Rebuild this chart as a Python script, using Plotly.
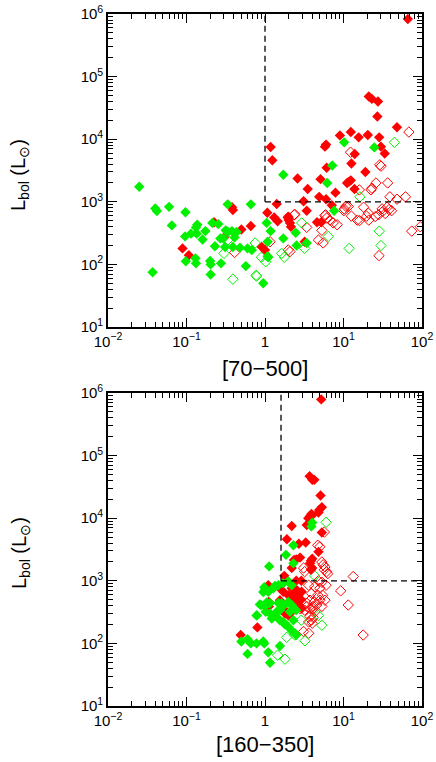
import plotly.graph_objects as go

# ---------------- data: top panel [70-500] ----------------
top_red_fill_x = [66, 21, 23, 27.5, 27, 48, 9.0, 12.4, 15.6, 20.4, 28.5, 30, 33.5, 6.0, 5.8, 1.18, 1.24, 13.9, 12.6, 6.1,
                  19, 2.6, 5.1, 11.1, 11.8, 12.4, 3.5, 13.8, 7.9, 4.9, 6.0, 3.1, 1.41, 7.1, 0.38, 0.39, 1.07, 1.95, 2.0, 1.31,
                  1.45, 3.4, 1.98, 2.08, 2.14, 4.6, 5.2, 0.91, 1.0, 0.225, 0.50, 0.66, 0.30, 0.089, 0.107, 3.2]
top_red_fill_y = [8.3e5, 4.8e4, 4.4e4, 4.0e4, 2.3e4, 1.55e4, 1.15e4, 1.3e4, 1.07e4, 1.17e4, 1.07e4, 7.6e3, 5.9e3, 8.2e3, 7.6e3, 7.5e3, 4.6e3, 5.8e3, 4.1e3, 3.5e3,
                  3.0e3, 2.35e3, 2.3e3, 2.0e3, 2.1e3, 2.2e3, 1.6e3, 1.6e3, 1.4e3, 1.2e3, 1.1e3, 1.02e3, 9.2e2, 8.8e2, 8.2e2, 7.4e2, 6.7e2, 5.6e2, 5.1e2, 5.6e2,
                  4.9e2, 7.2e2, 5.8e2, 4.6e2, 4.0e2, 4.7e2, 4.7e2, 1.9e2, 1.7e2, 4.7e2, 3.6e2, 4.1e2, 2.7e2, 1.8e2, 1.4e2, 2.3e2]

top_green_fill_x = [10.2, 24.7, 7.2, 1.71, 6.2, 0.025, 0.04, 0.042, 0.06, 0.097, 0.335, 0.66, 7.6, 1.05, 1.18, 1.08, 1.08, 0.95, 1.71, 2.46,
                    3.4, 0.065, 0.137, 0.132, 0.114, 0.135, 0.174, 0.096, 0.16, 0.213, 0.254, 0.316, 0.337, 0.38, 0.435, 0.27, 0.295, 0.41, 0.23, 0.31,
                    0.39, 0.48, 0.60, 0.68, 1.1, 0.13, 0.132, 0.098, 0.2, 0.203, 0.275, 0.203, 0.57, 0.037, 2.53]
top_green_fill_y = [8.9e3, 7.4e3, 3.8e3, 2.7e3, 2.0e3, 1.74e3, 7.8e2, 7.1e2, 8.3e2, 6.8e2, 9.1e2, 9.1e2, 7.2e2, 4.6e2, 3.4e2, 2.3e2, 1.35e2, 50, 2.6e2, 3.2e2,
                    2.2e2, 4.2e2, 4.3e2, 3.9e2, 3.1e2, 3.1e2, 3.4e2, 2.8e2, 2.5e2, 4.6e2, 4.4e2, 3.5e2, 3.3e2, 3.4e2, 3.3e2, 2.6e2, 2.6e2, 2.7e2, 1.95e2, 1.9e2,
                    1.9e2, 1.85e2, 1.8e2, 1.7e2, 1.3e2, 1.25e2, 1.04e2, 1.12e2, 1.13e2, 1.0e2, 1.04e2, 69, 94, 75, 2.0e2]

top_red_open_x = [68, 12.3, 29, 30, 25.9, 36.5, 22.4, 23, 15.9, 39, 61.5, 48, 2.4, 5.8, 6.1, 10.2, 11.5, 10.7, 10.1, 12.6,
                  18, 20.7, 19.7, 25.4, 31.5, 36, 41, 16, 74, 28.3, 2.35, 3.4, 5.9, 6.7, 7.4, 8.3, 5.3, 4.8, 5.5, 1.98,
                  2.08, 1.16, 0.41, 15, 21, 31, 34, 38, 28, 95]
top_red_open_y = [1.3e4, 6.2e3, 3.9e3, 3.7e3, 2.0e3, 2.0e3, 1.55e3, 1.65e3, 1.55e3, 1.2e3, 1.2e3, 1.1e3, 6.3e2, 6.0e2, 5.5e2, 7.7e2, 8.4e2, 8.5e2, 7.2e2, 5.9e2,
                  8.2e2, 6.6e2, 5.9e2, 5.8e2, 7.0e2, 8.2e2, 7.2e2, 5.0e2, 3.4e2, 1.38e2, 6.2e2, 3.9e2, 6.2e2, 5.1e2, 4.6e2, 4.3e2, 3.5e2, 2.45e2, 2.2e2, 1.7e2,
                  1.6e2, 2.3e2, 1.55e2, 5.1e2, 5.1e2, 7.7e2, 6.5e2, 7.5e2, 6.2e2, 4.0e2]

top_green_open_x = [44.5, 16.2, 28.6, 30, 11.8, 2.93, 6.4, 1.63, 1.76, 3.2, 0.9, 1.02, 0.75, 0.78, 0.335, 0.30, 0.39, 0.77]
top_green_open_y = [8.9e3, 1.2e3, 3.4e2, 2.0e2, 1.8e2, 4.6e2, 2.8e2, 1.5e2, 1.3e2, 1.8e2, 1.3e2, 1.1e2, 2.2e2, 65, 2.45e2, 1.5e2, 58, 67]

# ---------------- data: bottom panel [160-350] ----------------
bot_red_fill_x = [5.2, 3.7, 4.0, 4.25, 5.1, 5.3, 4.9, 4.8, 3.9, 4.0, 3.74, 3.56, 3.4, 2.19, 5.3, 1.9, 3.3, 2.7, 4.8, 2.8,
                  2.5, 2.34, 4.0, 3.85, 3.75, 2.19, 4.0, 3.85, 1.76, 2.5, 2.9, 1.1, 1.08, 1.12, 1.71, 1.98, 2.3, 2.66, 2.4, 2.5,
                  2.7, 2.93, 2.19, 1.98, 0.49, 0.8, 1.28, 1.1, 1.12, 2.5, 2.66, 1.71, 1.8, 1.55, 2.19, 2.9, 1.55, 2.19, 2.3, 2.66,
                  2.5, 2.93]
bot_red_fill_y = [7.9e5, 4.7e4, 4.1e4, 4.1e4, 2.3e4, 1.5e4, 1.35e4, 1.23e4, 1.17e4, 1.12e4, 1.07e4, 1.0e4, 7.8e3, 7.5e3, 5.9e3, 4.6e3, 4.1e3, 3.9e3, 2.9e3, 2.35e3,
                  2.2e3, 2.15e3, 2.25e3, 2.1e3, 1.9e3, 1.6e3, 1.6e3, 1.5e3, 1.2e3, 1.0e3, 1.0e3, 8.5e2, 4.1e2, 4.6e2, 6.7e2, 5.9e2, 8.0e2, 6.7e2, 5.2e2, 4.4e2,
                  4.1e2, 3.6e2, 3.2e2, 2.8e2, 1.36e2, 1.8e2, 2.7e2, 4.5e2, 3.9e2, 4.6e2, 4.1e2, 3.6e2, 3.0e2, 4.9e2, 5.2e2, 5.0e2, 7.6e2, 7.6e2, 6.3e2, 5.9e2,
                  7.1e2, 6.7e2]

bot_green_fill_x = [4.0, 3.9, 2.3, 1.85, 1.13, 2.3, 1.34, 1.0, 0.95, 0.86, 0.78, 1.02, 1.16, 1.41, 1.55, 1.48, 1.63, 1.98, 2.19, 0.50,
                    0.6, 0.66, 0.78, 0.95, 0.98, 0.6, 1.1, 1.16, 1.55, 0.79, 0.89, 1.34, 1.55, 1.71, 1.8, 1.22, 1.98, 2.19, 2.4, 2.5,
                    2.3, 2.08, 2.5, 1.05, 1.16, 1.63, 1.98, 2.19, 0.98, 1.1, 1.28, 1.48, 1.71, 1.98, 1.0, 1.71]
bot_green_fill_y = [8.5e3, 7.4e3, 3.7e3, 2.6e3, 1.7e3, 1.9e3, 8.3e2, 7.1e2, 6.6e2, 4.2e2, 2.8e2, 3.2e2, 3.0e2, 3.2e2, 3.4e2, 4.4e2, 4.4e2, 4.6e2, 8.5e2, 1.07e2,
                    1.17e2, 1.0e2, 1.0e2, 1.07e2, 1.0e2, 68, 72, 49, 91, 2.8e2, 4.1e2, 2.8e2, 2.35e2, 2.2e2, 2.0e2, 2.5e2, 1.85e2, 1.6e2, 1.45e2, 1.36e2,
                    2.35e2, 3.2e2, 3.4e2, 4.5e2, 4.4e2, 4.1e2, 4.5e2, 4.1e2, 7.9e2, 6.7e2, 7.6e2, 8.5e2, 9.1e2, 9.8e2, 3.9e2, 4.0e2]

bot_red_open_x = [5.7, 4.7, 5.0, 5.3, 5.5, 5.8, 6.1, 6.3, 5.7, 3.1, 3.2, 9.2, 13.3, 11.5, 3.6, 4.3, 5.0, 3.9, 4.7, 5.4,
                  3.75, 4.25, 5.0, 3.4, 4.1, 5.3, 5.8, 4.8, 5.3, 6.0, 2.8, 3.2, 3.4, 3.75, 4.1, 4.3, 3.75, 3.9, 4.55, 3.1,
                  3.6, 4.0, 17.8, 3.6, 4.1]
bot_red_open_y = [6.0e3, 3.7e3, 3.5e3, 2.0e3, 1.8e3, 1.67e3, 1.4e3, 1.3e3, 1.5e3, 1.6e3, 1.4e3, 6.9e2, 1.17e3, 4.1e2, 8.5e2, 8.0e2, 7.6e2, 6.3e2, 5.9e2, 5.9e2,
                  4.9e2, 4.6e2, 4.9e2, 3.9e2, 3.6e2, 3.9e2, 4.9e2, 1.0e3, 9.5e2, 8.5e2, 3.6e2, 3.4e2, 4.4e2, 3.6e2, 3.9e2, 3.2e2, 2.7e2, 2.35e2, 4.1e2, 1.55e2,
                  1.45e2, 2.1e2, 1.36e2, 2.2e2, 2.6e2]

bot_green_open_x = [6.0, 4.3, 1.45, 1.8, 1.89, 2.4, 3.23, 5.3, 4.8, 2.9]
bot_green_open_y = [8.6e3, 1.2e3, 65, 56, 1.25e2, 1.36e2, 1.1e2, 1.95e2, 2.8e2, 2.35e2]

# threshold (dashed) lines
top_vline_x = [1, 1]
top_hline_x = [1, 100]
bot_vline_x = [1.6, 1.6]
bot_hline_x = [1.6, 100]
vline_y = [1e3, 1e6]
hline_y = [1e3, 1e3]

# axis ticks
x_tickvals = [0.01, 0.1, 1, 10, 100]
x_ticktext = ["10<sup>−2</sup>", "10<sup>−1</sup>", "1", "10<sup>1</sup>", "10<sup>2</sup>"]
y_tickvals = [10, 100, 1e3, 1e4, 1e5, 1e6]
y_ticktext = ["10<sup>1</sup>", "10<sup>2</sup>", "10<sup>3</sup>", "10<sup>4</sup>", "10<sup>5</sup>", "10<sup>6</sup>"]
x_minor = [m * 10.0 ** e for e in (-2, -1, 0, 1) for m in range(2, 10)]
y_minor = [m * 10.0 ** e for e in (1, 2, 3, 4, 5) for m in range(2, 10)]

RED = "#ff0000"
GREEN = "#00f000"
FONT = "Liberation Sans, Arial, Helvetica, sans-serif"

fig = go.Figure()


def add_panel(xa, ya, rfx, rfy, gfx, gfy, rox, roy, gox, goy, vx, hx):
    kw = dict(xaxis=xa, yaxis=ya, mode="markers", showlegend=False, hoverinfo="skip")
    fig.add_trace(go.Scatter(x=rox, y=roy, marker=dict(symbol="diamond-open", size=8, color=RED,
                                                       line=dict(width=1, color=RED)), **kw))
    fig.add_trace(go.Scatter(x=gox, y=goy, marker=dict(symbol="diamond-open", size=8, color=GREEN,
                                                       line=dict(width=1, color=GREEN)), **kw))
    fig.add_trace(go.Scatter(x=rfx, y=rfy, marker=dict(symbol="diamond", size=8, color=RED,
                                                       line=dict(width=0)), **kw))
    fig.add_trace(go.Scatter(x=gfx, y=gfy, marker=dict(symbol="diamond", size=8, color=GREEN,
                                                       line=dict(width=0)), **kw))
    lk = dict(xaxis=xa, yaxis=ya, mode="lines", showlegend=False, hoverinfo="skip",
              line=dict(color="black", width=1.3, dash="6px,4px"))
    fig.add_trace(go.Scatter(x=vx, y=vline_y, **lk))
    fig.add_trace(go.Scatter(x=hx, y=hline_y, **lk))


add_panel("x", "y", top_red_fill_x, top_red_fill_y, top_green_fill_x, top_green_fill_y,
          top_red_open_x, top_red_open_y, top_green_open_x, top_green_open_y, top_vline_x, top_hline_x)
add_panel("x2", "y2", bot_red_fill_x, bot_red_fill_y, bot_green_fill_x, bot_green_fill_y,
          bot_red_open_x, bot_red_open_y, bot_green_open_x, bot_green_open_y, bot_vline_x, bot_hline_x)

xax = dict(type="log", range=[-2, 2], tickmode="array", tickvals=x_tickvals, ticktext=x_ticktext,
           ticks="inside", ticklen=9, tickwidth=1.3, tickcolor="black", mirror="allticks",
           showline=True, linecolor="black", linewidth=1.6, showgrid=False, zeroline=False,
           automargin=False, ticklabeloverflow="allow",
           tickfont=dict(size=15, color="black", family=FONT),
           minor=dict(tickmode="array", tickvals=x_minor, ticks="inside", ticklen=5, tickwidth=1.2,
                      tickcolor="black", showgrid=False))
yax = dict(type="log", range=[1, 6], tickmode="array", tickvals=y_tickvals, ticktext=y_ticktext,
           ticks="inside", ticklen=9, tickwidth=1.3, tickcolor="black", mirror="allticks",
           showline=True, linecolor="black", linewidth=1.6, showgrid=False, zeroline=False,
           automargin=False, ticklabeloverflow="allow",
           tickfont=dict(size=15, color="black", family=FONT),
           minor=dict(tickmode="array", tickvals=y_minor, ticks="inside", ticklen=5, tickwidth=1.2,
                      tickcolor="black", showgrid=False))

fig.update_layout(
    width=436, height=762,
    margin=dict(l=108, r=14, t=14, b=56, autoexpand=False),
    paper_bgcolor="white", plot_bgcolor="white",
    font=dict(family=FONT, color="black"),
    xaxis=dict(xax, domain=[0, 1], anchor="y"),
    yaxis=dict(yax, domain=[0.5477, 1], anchor="x"),
    xaxis2=dict(xax, domain=[0, 1], anchor="y2"),
    yaxis2=dict(yax, domain=[0, 0.4523], anchor="x2"),
)

ytitle = "L<sub>bol</sub> (L<sub>⊙</sub>)"
fig.add_annotation(text=ytitle, xref="paper", yref="paper", x=(20 - 108) / 314, y=(706 - 175) / 692,
                   textangle=-90, showarrow=False, font=dict(size=20, family=FONT, color="black"),
                   xanchor="center", yanchor="middle")
fig.add_annotation(text=ytitle, xref="paper", yref="paper", x=(20 - 108) / 314, y=(706 - 553) / 692,
                   textangle=-90, showarrow=False, font=dict(size=20, family=FONT, color="black"),
                   xanchor="center", yanchor="middle")
fig.add_annotation(text="[70−500]", xref="paper", yref="paper", x=0.5, y=(706 - 368) / 692,
                   showarrow=False, font=dict(size=22, family=FONT, color="black"),
                   xanchor="center", yanchor="middle")
fig.add_annotation(text="[160−350]", xref="paper", yref="paper", x=0.5, y=(706 - 745) / 692,
                   showarrow=False, font=dict(size=22, family=FONT, color="black"),
                   xanchor="center", yanchor="middle")

# remove the default page margin so the figure sits at the window's top-left corner
fig.write_html("out.html", config={"displayModeBar": False},
               post_script="document.body.style.margin='0';document.body.style.padding='0';")
